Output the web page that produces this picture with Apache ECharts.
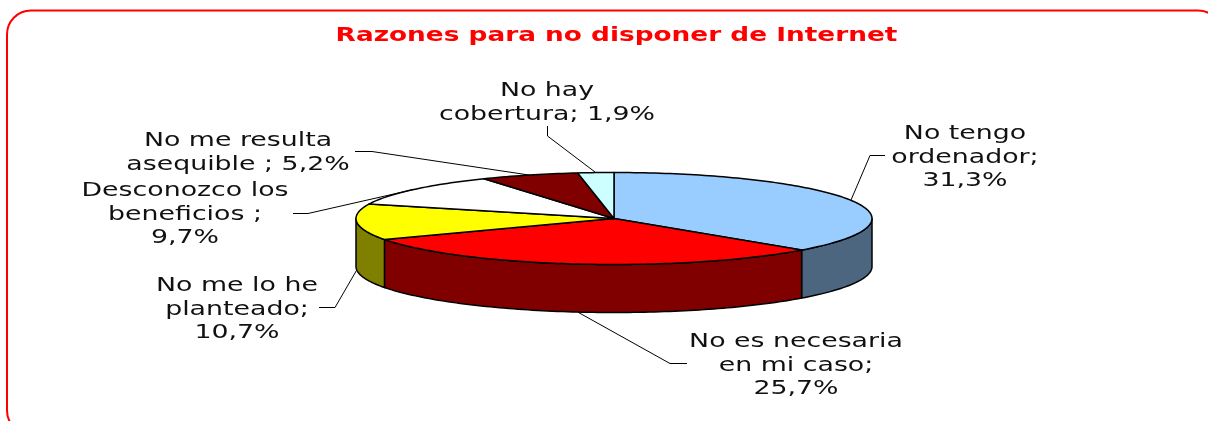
<!DOCTYPE html>
<html>
<head>
<meta charset="utf-8">
<style>
html, body { margin: 0; padding: 0; background: #fff; }
#main { width: 1208px; height: 421px; }
</style>
<script src="https://cdn.jsdelivr.net/npm/echarts@6/dist/echarts.min.js"></script>
</head>
<body>
<div id="main"></div>
<script>
var chartTitle = 'Razones para no disponer de Internet';
var categories = ['No tengo\nordenador', 'No es necesaria\nen mi caso', 'No me lo he\nplanteado', 'Desconozco los\nbeneficios', 'No me resulta\nasequible', 'No hay\ncobertura'];
var separators = [';\n', ';\n', ';\n', ' ;\n', ' ; ', '; '];
var values = [31.3, 25.7, 10.7, 9.7, 5.2, 1.9];

var topColors = ['#99CCFF', '#FF0000', '#FFFF00', '#FFFFFF', '#800000', '#CCFFFF'];
var sideColors = ['#4C6680', '#800000', '#808000', '#808080', '#400000', '#668080'];

// label centre and elbow of the leader line, one per slice
var labelAt = [[965, 158], [796, 366], [237, 310], [185, 215], [238, 153], [547, 103]];
var elbowAt = [[[870, 155.5], [885, 155.5]], [[670, 363.5], [687, 363.5]], [[335, 307.5], [319, 307.5]], [[308, 213.5], [293, 213.5]], [[372, 151.5], [355, 151.5]], [[547.5, 136], [547.5, 126]]];

// flattened pie
var cx = 614, cy = 218.5, rx = 258, ry = 46, depth = 48;
var stretch = 1.41;
var titleStretch = 1.386;
var fontFamily = '"DejaVu Sans", Verdana, sans-serif';

var total = values.reduce(function(a, b) { return a + b; }, 0);

// angle is clockwise from 12 o'clock, in radians
function rimPoint(angle, drop) {
    return [cx + rx * Math.sin(angle), cy - ry * Math.cos(angle) + (drop || 0)];
}

function arcPoints(from, to, drop) {
    var pts = [];
    var n = Math.max(2, Math.ceil((to - from) / 0.02));
    for (var i = 0; i <= n; i++) {
        pts.push(rimPoint(from + (to - from) * i / n, drop));
    }
    return pts;
}

function isFront(angle) {
    return angle > Math.PI / 2 && angle < Math.PI * 1.5;
}

function renderSlice(params, api) {
    var idx = params.dataIndex;
    var before = 0;
    for (var i = 0; i < idx; i++) before += values[i];
    var a0 = before / total * Math.PI * 2;
    var a1 = (before + api.value(0)) / total * Math.PI * 2;
    var mid = (a0 + a1) / 2;
    var children = [];

    // outer wall, only for the part of the rim facing the viewer
    var w0 = Math.max(a0, Math.PI / 2), w1 = Math.min(a1, Math.PI * 1.5);
    if (w1 > w0) {
        var upper = arcPoints(w0, w1, 0);
        var lower = arcPoints(w0, w1, depth).reverse();
        children.push({
            type: 'polygon',
            shape: { points: upper.concat(lower) },
            style: { fill: sideColors[idx], stroke: '#000', lineWidth: 1.5, lineJoin: 'round' }
        });
    }

    children.push({
        type: 'polygon',
        shape: { points: [[cx, cy]].concat(arcPoints(a0, a1, 0)) },
        style: { fill: topColors[idx], stroke: '#000', lineWidth: 1.5, lineJoin: 'round' }
    });

    // leader line starts on the middle of the slice rim
    var anchor = rimPoint(mid, isFront(mid) ? depth : 0);
    children.push({
        type: 'polyline',
        shape: { points: [anchor].concat(elbowAt[idx]) },
        style: { fill: null, stroke: '#000', lineWidth: 1 }
    });

    children.push({
        type: 'text',
        x: labelAt[idx][0],
        y: labelAt[idx][1],
        scaleX: stretch,
        style: {
            text: categories[idx] + separators[idx] + String(api.value(0)).replace('.', ',') + '%',
            x: 0,
            y: 0,
            fill: '#111',
            font: '19px ' + fontFamily,
            lineHeight: 23.5,
            textAlign: 'center',
            textVerticalAlign: 'middle'
        }
    });

    return { type: 'group', children: children };
}

var myChart = echarts.init(document.getElementById('main'));
var option = {
    backgroundColor: '#fff',
    animation: false,
    graphic: [{
        type: 'rect',
        shape: { x: 7, y: 10.5, width: 1215, height: 424, r: 24 },
        style: { fill: null, stroke: '#FF0000', lineWidth: 2 },
        silent: true
    }, {
        type: 'text',
        x: 616.5,
        y: 36,
        scaleX: titleStretch,
        style: {
            text: chartTitle,
            x: 0,
            y: 0,
            fill: '#FF0000',
            font: 'bold 19px ' + fontFamily,
            textAlign: 'center',
            textVerticalAlign: 'middle'
        }
    }],
    series: [{
        type: 'custom',
        coordinateSystem: 'none',
        silent: true,
        renderItem: renderSlice,
        data: values.map(function(v) { return [v]; })
    }]
};
myChart.setOption(option);
</script>
</body>
</html>
